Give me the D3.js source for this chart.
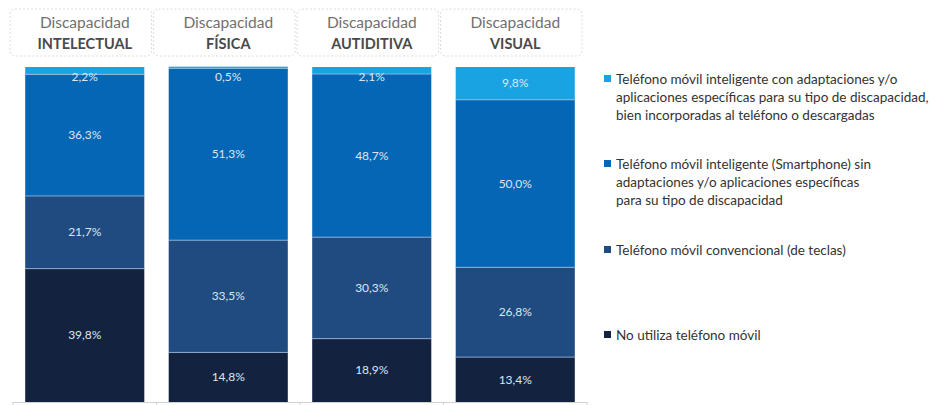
<!DOCTYPE html>
<html><head><meta charset="utf-8">
<script src="https://cdn.jsdelivr.net/npm/d3@7"></script>
<style>html,body{margin:0;padding:0;background:#fff;}svg{display:block;}</style>
</head><body>
<svg id="chart" width="935" height="405"></svg>
<script>
const categories = ["INTELECTUAL", "FÍSICA", "AUTIDITIVA", "VISUAL"];
const headerPrefix = "Discapacidad";
const seriesNames = [
  "No utiliza teléfono móvil",
  "Teléfono móvil convencional (de teclas)",
  "Teléfono móvil inteligente (Smartphone) sin adaptaciones y/o aplicaciones específicas para su tipo de discapacidad",
  "Teléfono móvil inteligente con adaptaciones y/o aplicaciones específicas para su tipo de discapacidad, bien incorporadas al teléfono o descargadas"
];
const legendLines = [
  ["No utiliza teléfono móvil"],
  ["Teléfono móvil convencional (de teclas)"],
  ["Teléfono móvil inteligente (Smartphone) sin", "adaptaciones y/o aplicaciones específicas", "para su tipo de discapacidad"],
  ["Teléfono móvil inteligente con adaptaciones y/o", "aplicaciones específicas para su tipo de discapacidad,", "bien incorporadas al teléfono o descargadas"]
];
const noUtiliza    = [39.8, 14.8, 18.9, 13.4];
const convencional = [21.7, 33.5, 30.3, 26.8];
const smartSin     = [36.3, 51.3, 48.7, 50.0];
const smartCon     = [2.2, 0.5, 2.1, 9.8];
const colors = ["#13223f", "#1f4b80", "#0566b6", "#1aa3e2"];

const series = [noUtiliza, convencional, smartSin, smartCon];
const svg = d3.select("#chart");
const x = d3.scaleBand().domain(categories).range([13, 587]).paddingInner(0.17).paddingOuter(0.085);
const y = d3.scaleLinear().domain([0, 100]).range([402, 67]);

const rows = categories.map((c, i) => {
  const o = {cat: c};
  series.forEach((s, k) => o["s" + k] = s[i]);
  return o;
});
const stack = d3.stack().keys(series.map((s, k) => "s" + k));
const stacked = stack(rows);

// header boxes
const bandStep = x.step();
const bandStart = c => x(c) - (bandStep - x.bandwidth()) / 2;
const hdr = svg.append("g");
categories.forEach(c => {
  const x0 = bandStart(c);
  hdr.append("rect").attr("x", x0 - 3).attr("y", 9).attr("width", bandStep - 2).attr("height", 47)
    .attr("rx", 5).attr("fill", "#fff").attr("stroke", "#dcdcdc").attr("stroke-width", 1).attr("stroke-dasharray", "2,2");
  const cx = x(c) + x.bandwidth() / 2;
  hdr.append("text").attr("x", cx).attr("y", 28).attr("text-anchor", "middle")
    .attr("font-family", "Lato").attr("font-size", 15.5).attr("fill", "#707070").text(headerPrefix);
  hdr.append("text").attr("x", cx).attr("y", 49).attr("text-anchor", "middle")
    .attr("font-family", "Lato").attr("font-weight", "bold").attr("font-size", 14.5).attr("fill", "#4a4a4a").text(c);
});

// bars
const g = svg.append("g");
stacked.forEach((layer, k) => {
  g.selectAll(null).data(layer).enter().append("rect")
    .attr("x", d => x(d.data.cat)).attr("width", x.bandwidth())
    .attr("y", d => y(d[1])).attr("height", d => y(d[0]) - y(d[1]))
    .attr("fill", colors[k]);
});
// separators
stacked.slice(0, 3).forEach(layer => {
  g.selectAll(null).data(layer).enter().append("line")
    .attr("x1", d => x(d.data.cat)).attr("x2", d => x(d.data.cat) + x.bandwidth())
    .attr("y1", d => y(d[1])).attr("y2", d => y(d[1]))
    .attr("stroke", "rgba(170,200,235,0.7)").attr("stroke-width", 1);
});
// labels
const fmt = v => v.toFixed(1).replace(".", ",") + "%";
stacked.forEach((layer, k) => {
  g.selectAll(null).data(layer).enter().append("text")
    .attr("x", d => x(d.data.cat) + x.bandwidth() / 2)
    .attr("y", d => Math.max((y(d[0]) + y(d[1])) / 2, y(d[1]) + 10) + 4)
    .attr("text-anchor", "middle").attr("font-family", "Lato").attr("font-size", 12)
    .attr("fill", "#dde6f0").text(d => fmt(d[1] - d[0]));
});

// bottom axis
const ax = svg.append("g");
ax.append("line").attr("x1", 13).attr("x2", 587).attr("y1", 402.5).attr("y2", 402.5).attr("stroke", "#d0d0d0");
categories.forEach(c => {
  const x0 = bandStart(c);
  ax.append("line").attr("x1", x0).attr("x2", x0).attr("y1", 402).attr("y2", 405).attr("stroke", "#d0d0d0");
});
ax.append("line").attr("x1", 587).attr("x2", 587).attr("y1", 402).attr("y2", 405).attr("stroke", "#d0d0d0");

// legend
const legendY = [335, 250, 164, 79];
const lg = svg.append("g");
legendLines.forEach((lines, k) => {
  lg.append("rect").attr("x", 604).attr("y", legendY[k] - 4).attr("width", 7).attr("height", 7).attr("fill", colors[k]);
  lines.forEach((t, j) => {
    lg.append("text").attr("x", 616).attr("y", legendY[k] + 4.5 + j * 18.3)
      .attr("font-family", "Lato").attr("font-size", 13.5)
      .attr("fill", "#333").text(t);
  });
});
</script>
</body></html>
